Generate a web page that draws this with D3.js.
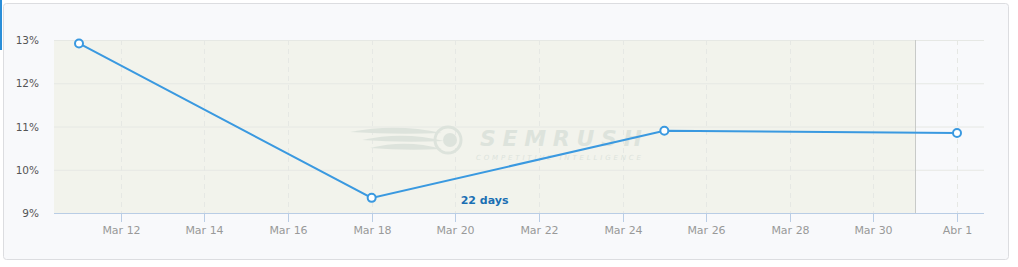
<!DOCTYPE html>
<html>
<head>
<meta charset="utf-8">
<script src="https://cdn.jsdelivr.net/npm/d3@7"></script>
<style>
  body { margin: 0; background: #fff; }
  svg { display: block; }
</style>
</head>
<body>
<svg id="chart" width="1018" height="267"></svg>
<script>
// data
let dates = ["2015-03-11", "2015-03-18", "2015-03-25", "2015-04-01"];
let values = [12.92, 9.35, 10.90, 10.85];
let yTicks = [9, 10, 11, 12, 13];
let monthNames = ["Ene","Feb","Mar","Abr","May","Jun","Jul","Ago","Sep","Oct","Nov","Dic"];
let shadeEnd = "2015-03-31";
let spanLabel = "22 days";

let parse = d3.timeParse("%Y-%m-%d");
let points = dates.map(function(d, i){ return {date: parse(d), value: values[i]}; });

let svg = d3.select("#chart");
let plot = {left: 54, right: 984, top: 40, bottom: 213};

// panel
svg.append("rect")
    .attr("x", 3.5).attr("y", 3.5)
    .attr("width", 1005).attr("height", 256)
    .attr("rx", 3)
    .attr("fill", "#f8f9fb")
    .attr("stroke", "#dcdde0");
svg.append("rect")
    .attr("x", 0).attr("y", 0)
    .attr("width", 2).attr("height", 50)
    .attr("fill", "#2a8ed8");

let x = d3.scaleTime()
    .domain(d3.extent(points, function(d){ return d.date; }))
    .range([79, 957]);
let y = d3.scaleLinear().domain([9, 13]).range([plot.bottom, plot.top]);

let xTicks = d3.timeDay.range(parse("2015-03-12"), parse("2015-04-02"), 2);
xTicks = xTicks.filter(function(d){ return x(d) <= plot.right; });

// shaded period
let shadeX = x(parse(shadeEnd));
svg.append("rect")
    .attr("x", plot.left).attr("y", plot.top)
    .attr("width", shadeX - plot.left)
    .attr("height", plot.bottom - plot.top)
    .attr("fill", "#f2f3ec");

// horizontal grid
svg.append("g").selectAll("line")
    .data(yTicks.slice(1))
    .enter().append("line")
    .attr("x1", plot.left).attr("x2", plot.right)
    .attr("y1", function(d){ return y(d) + 0.5; })
    .attr("y2", function(d){ return y(d) + 0.5; })
    .attr("stroke", "#e6e8e4");

// vertical dashed grid
svg.append("g").selectAll("line")
    .data(xTicks)
    .enter().append("line")
    .attr("x1", function(d){ return Math.round(x(d)) + 0.5; })
    .attr("x2", function(d){ return Math.round(x(d)) + 0.5; })
    .attr("y1", plot.top).attr("y2", plot.bottom)
    .attr("stroke", "#e6e8e4")
    .attr("stroke-dasharray", "5,4");

// end of shaded period
svg.append("line")
    .attr("x1", Math.round(shadeX) + 0.5).attr("x2", Math.round(shadeX) + 0.5)
    .attr("y1", plot.top).attr("y2", plot.bottom)
    .attr("stroke", "#c8cac8");

// watermark
let wm = svg.append("g").attr("fill", "#dde3dc");
wm.append("circle").attr("cx", 448).attr("cy", 140).attr("r", 13)
    .attr("fill", "none").attr("stroke", "#dde3dc").attr("stroke-width", 3);
wm.append("circle").attr("cx", 450).attr("cy", 140).attr("r", 7);
[ [350, 132, 92], [362, 140, 82], [370, 148, 72] ].forEach(function(f){
    wm.append("path")
        .attr("d", "M" + f[0] + "," + f[1] + " Q" + (f[0] + f[2] / 2) + "," + (f[1] - 9) + " " + (f[0] + f[2]) + "," + (f[1] + 1) + " Q" + (f[0] + f[2] / 2) + "," + (f[1] + 3) + " " + f[0] + "," + f[1] + "Z");
});
wm.append("text")
    .attr("x", 480).attr("y", 146)
    .attr("font-family", "DejaVu Sans")
    .attr("font-size", 22).attr("font-weight", "bold").attr("font-style", "italic")
    .attr("textLength", 162)
    .text("SEMRUSH");
wm.append("text")
    .attr("x", 476).attr("y", 160)
    .attr("font-family", "DejaVu Sans")
    .attr("font-size", 7).attr("font-style", "italic")
    .attr("textLength", 165)
    .text("COMPETITIVE INTELLIGENCE");

// x axis line + ticks
svg.append("line")
    .attr("x1", plot.left).attr("x2", plot.right)
    .attr("y1", plot.bottom + 0.5).attr("y2", plot.bottom + 0.5)
    .attr("stroke", "#b9cde5");
let xt = svg.append("g").selectAll("g")
    .data(xTicks)
    .enter().append("g")
    .attr("transform", function(d){ return "translate(" + (Math.round(x(d)) + 0.5) + ",0)"; });
xt.append("line")
    .attr("y1", plot.bottom).attr("y2", plot.bottom + 9)
    .attr("stroke", "#b9cde5");
xt.append("text")
    .attr("y", 234)
    .attr("text-anchor", "middle")
    .attr("font-family", "DejaVu Sans")
    .attr("font-size", 11)
    .attr("fill", "#999")
    .text(function(d){ return monthNames[d.getMonth()] + " " + d.getDate(); });

// y labels
svg.append("g").selectAll("text")
    .data(yTicks)
    .enter().append("text")
    .attr("x", 39)
    .attr("y", function(d){ return y(d) + 4; })
    .attr("text-anchor", "end")
    .attr("font-family", "DejaVu Sans")
    .attr("font-size", 10.5)
    .attr("fill", "#555")
    .text(function(d){ return d + "%"; });

// span label
svg.append("text")
    .attr("x", (plot.left + shadeX) / 2)
    .attr("y", 204)
    .attr("text-anchor", "middle")
    .attr("font-family", "DejaVu Sans")
    .attr("font-size", 11)
    .attr("font-weight", "bold")
    .attr("fill", "#1a6fb3")
    .text(spanLabel);

// line
let line = d3.line()
    .x(function(d){ return x(d.date); })
    .y(function(d){ return y(d.value); });
svg.append("path")
    .datum(points)
    .attr("d", line)
    .attr("fill", "none")
    .attr("stroke", "#3a99e0")
    .attr("stroke-width", 2);

svg.append("g").selectAll("circle")
    .data(points)
    .enter().append("circle")
    .attr("cx", function(d){ return x(d.date); })
    .attr("cy", function(d){ return y(d.value); })
    .attr("r", 4)
    .attr("fill", "#fff")
    .attr("stroke", "#3a99e0")
    .attr("stroke-width", 2);
</script>
</body>
</html>
